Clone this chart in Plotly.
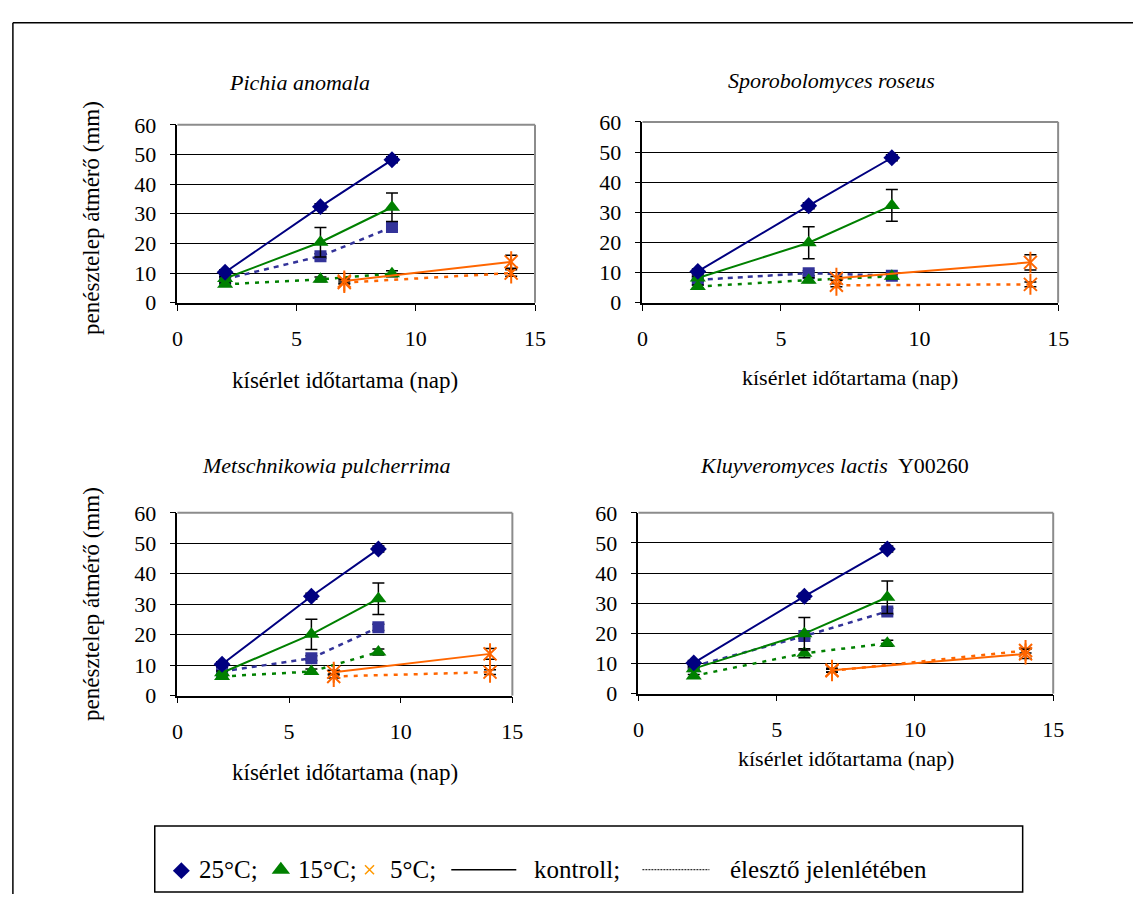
import plotly.graph_objects as go

# ---------------- data ----------------
species_titles = [
    "<i>Pichia anomala</i>",
    "<i>Sporobolomyces roseus</i>",
    "<i>Metschnikowia pulcherrima</i>",
    "<i>Kluyveromyces lactis</i>  Y00260",
]
days_warm = [2, 6, 9]      # 25 °C and 15 °C sampling days
days_cold = [7, 14]        # 5 °C sampling days

# colony diameter (mm); one row per species panel
ctrl_25 = [[10.3, 32.4, 48.2], [10.4, 32.2, 48.1], [10.3, 32.6, 48.1], [10.2, 32.3, 48.0]]
ctrl_25_err = [[0.8, 1.0, 1.0], [0.8, 1.0, 1.0], [0.8, 1.0, 1.0], [0.8, 1.0, 1.0]]
ctrl_15 = [[8.2, 20.4, 32.2], [8.2, 19.9, 32.3], [7.5, 20.1, 31.8], [8.3, 19.9, 32.0]]
ctrl_15_err = [[0.6, 5.0, 4.8], [0.6, 5.3, 5.3], [0.6, 5.0, 5.2], [0.6, 5.4, 5.4]]
ctrl_5 = [[7.3, 13.8], [8.1, 13.4], [7.7, 13.7], [7.8, 13.2]]
ctrl_5_err = [[0.6, 2.2], [0.6, 2.5], [0.6, 1.8], [0.6, 1.5]]

yeast_25 = [[8.0, 15.7, 25.5], [7.6, 9.8, 9.0], [7.9, 12.3, 22.4], [9.1, 19.1, 27.3]]
yeast_25_err = [[0.6, 0.8, 1.0], [0.6, 0.8, 0.8], [0.6, 0.8, 1.0], [0.6, 0.8, 1.0]]
yeast_15 = [[6.2, 7.9, 9.8], [5.4, 7.5, 8.8], [6.3, 7.9, 14.3], [5.9, 13.4, 16.7]]
yeast_15_err = [[0.5, 0.8, 1.0], [0.5, 0.8, 0.8], [0.5, 0.8, 1.0], [0.5, 1.5, 1.0]]
yeast_5 = [[6.8, 10.0], [5.8, 6.1], [6.3, 7.7], [7.6, 14.3]]
yeast_5_err = [[0.5, 1.1], [0.5, 0.8], [0.5, 0.8], [0.5, 0.8]]

x_ticks = [0, 5, 10, 15]
y_ticks = [0, 10, 20, 30, 40, 50, 60]
x_title = "kísérlet időtartama (nap)"
y_title = "penésztelep átmérő (mm)"
legend_labels = ["25°C;", "15°C;", "5°C;", "kontroll;", "élesztő jelenlétében"]

# ---------------- styling ----------------
W, H = 1144, 907
FONT = "Liberation Serif, 'Times New Roman', Times, serif"
NAVY = "#000080"
SLATE = "#333399"
GREEN = "#008000"
ORANGE = "#FF6600"


def fx(px):
    return px / W


def fy(py):
    return 1 - py / H


# plot-area pixel boxes: (left, right, top, bottom)
boxes = [
    (174, 537, 116, 299),
    (646, 1068, 113, 299),
    (174, 514, 515, 703),
    (642, 1063, 515, 701),
]
title_pos = [(298, 72), (838, 70), (325, 466), (841, 466)]
xtitle_pos = [(344, 379), (857, 376), (344, 782), (853, 768)]
xtitle_size = [23, 22, 23, 22]
ytitle_pos = [(86, 212), None, (86, 609), None]

fig = go.Figure()


def err(vals):
    return dict(type="data", array=vals, color="black", thickness=1.5, width=6, visible=True)


def star(x, y, common, size=13):
    """Excel-style star marker: an x with a vertical stroke."""
    return go.Scatter(x=x, y=y, mode="markers",
                      marker=dict(symbol="line-ns-open", size=size + 2, color=ORANGE,
                                  line=dict(color=ORANGE, width=2)), **common)


for i in range(4):
    xa = "x" if i == 0 else f"x{i + 1}"
    ya = "y" if i == 0 else f"y{i + 1}"
    common = dict(xaxis=xa, yaxis=ya, showlegend=False, hoverinfo="skip")

    # growth in presence of yeast (dotted)
    fig.add_trace(go.Scatter(x=days_warm, y=yeast_25[i], mode="lines+markers",
                             line=dict(color=SLATE, width=2.5, dash="5px,5px"),
                             marker=dict(symbol="square", size=12, color=SLATE),
                             error_y=err(yeast_25_err[i]), **common))
    fig.add_trace(go.Scatter(x=days_warm, y=yeast_15[i], mode="lines+markers",
                             line=dict(color=GREEN, width=2.5, dash="4px,6px"),
                             marker=dict(symbol="triangle-up", size=14, color=GREEN),
                             error_y=err(yeast_15_err[i]), **common))
    fig.add_trace(go.Scatter(x=days_cold, y=yeast_5[i], mode="lines+markers",
                             line=dict(color=ORANGE, width=2.5, dash="4px,6px"),
                             marker=dict(symbol="x-thin-open", size=13, color=ORANGE,
                                         line=dict(color=ORANGE, width=2)),
                             error_y=err(yeast_5_err[i]), **common))
    fig.add_trace(star(days_cold, yeast_5[i], common))

    # control colonies (solid)
    fig.add_trace(go.Scatter(x=days_cold, y=ctrl_5[i], mode="lines+markers",
                             line=dict(color=ORANGE, width=2),
                             marker=dict(symbol="x-thin-open", size=13, color=ORANGE,
                                         line=dict(color=ORANGE, width=2)),
                             error_y=err(ctrl_5_err[i]), **common))
    fig.add_trace(star(days_cold, ctrl_5[i], common))
    fig.add_trace(go.Scatter(x=days_warm, y=ctrl_15[i], mode="lines+markers",
                             line=dict(color=GREEN, width=2),
                             marker=dict(symbol="triangle-up", size=14, color=GREEN),
                             error_y=err(ctrl_15_err[i]), **common))
    fig.add_trace(go.Scatter(x=days_warm, y=ctrl_25[i], mode="lines+markers",
                             line=dict(color=NAVY, width=2),
                             marker=dict(symbol="diamond", size=13, color=NAVY),
                             error_y=err(ctrl_25_err[i]), **common))

    l, r, t, b = boxes[i]
    xkey = "xaxis" if i == 0 else f"xaxis{i + 1}"
    ykey = "yaxis" if i == 0 else f"yaxis{i + 1}"
    fig.layout[xkey] = dict(
        domain=[fx(l), fx(r)], anchor=ya, range=[0, 15], tickvals=x_ticks,
        showgrid=False, zeroline=False, showline=True, linecolor="black", linewidth=1.5,
        ticks="outside", ticklen=6, tickcolor="black", ticklabelstandoff=9,
        tickfont=dict(family=FONT, size=22, color="black"), fixedrange=True,
    )
    fig.layout[ykey] = dict(
        domain=[fy(b), fy(t)], anchor=xa, range=[0, 60], tickvals=y_ticks,
        showgrid=True, gridcolor="black", gridwidth=1, zeroline=False,
        showline=True, linecolor="black", linewidth=1.5,
        ticks="outside", ticklen=6, tickcolor="black", ticklabelstandoff=9,
        tickfont=dict(family=FONT, size=22, color="black"), fixedrange=True,
    )

    # grey top and right frame of the plot area
    fig.add_shape(type="line", xref="paper", yref="paper", x0=fx(l), x1=fx(r), y0=fy(t), y1=fy(t),
                  line=dict(color="#8c8c8c", width=2))
    fig.add_shape(type="line", xref="paper", yref="paper", x0=fx(r), x1=fx(r), y0=fy(t), y1=fy(b),
                  line=dict(color="#8c8c8c", width=2))

    tx, ty = title_pos[i]
    fig.add_annotation(x=fx(tx), y=fy(ty), xref="paper", yref="paper", text=species_titles[i],
                       showarrow=False, xanchor="center", yanchor="middle",
                       font=dict(family=FONT, size=22, color="black"))
    ax_, ay_ = xtitle_pos[i]
    fig.add_annotation(x=fx(ax_), y=fy(ay_), xref="paper", yref="paper", text=x_title,
                       showarrow=False, xanchor="center", yanchor="middle",
                       font=dict(family=FONT, size=xtitle_size[i], color="black"))
    if ytitle_pos[i] is not None:
        yx, yy = ytitle_pos[i]
        fig.add_annotation(x=fx(yx), y=fy(yy), xref="paper", yref="paper", text=y_title,
                           textangle=-90, showarrow=False, xanchor="center", yanchor="middle",
                           font=dict(family=FONT, size=23, color="black"))

# ---------------- legend (drawn on a pixel-space overlay axis) ----------------
fig.layout["xaxis5"] = dict(domain=[0, 1], range=[0, W], anchor="y5", visible=False, fixedrange=True)
fig.layout["yaxis5"] = dict(domain=[0, 1], range=[H, 0], anchor="x5", visible=False, fixedrange=True)
LEG_Y = 883
leg = dict(xaxis="x5", yaxis="y5", showlegend=False, hoverinfo="skip")
fig.add_trace(go.Scatter(x=[178], y=[LEG_Y], mode="markers",
                         marker=dict(symbol="diamond", size=13, color=NAVY), **leg))
fig.add_trace(go.Scatter(x=[279], y=[LEG_Y - 1], mode="markers",
                         marker=dict(symbol="triangle-up", size=16, color=GREEN), **leg))
fig.add_trace(go.Scatter(x=[369], y=[LEG_Y - 1], mode="markers",
                         marker=dict(symbol="x-thin-open", size=9, color="#FF9900",
                                     line=dict(color="#FF9900", width=1.5)), **leg))
fig.add_trace(go.Scatter(x=[452, 518], y=[LEG_Y - 1, LEG_Y - 1], mode="lines",
                         line=dict(color="black", width=1.5), **leg))
fig.add_trace(go.Scatter(x=[646, 714], y=[LEG_Y - 1, LEG_Y - 1], mode="lines",
                         line=dict(color="#333333", width=1.2, dash="2px,1px"), **leg))

for label, x0 in zip(legend_labels, [194, 294, 388, 534, 733]):
    fig.add_annotation(x=fx(x0), y=fy(LEG_Y - 1), xref="paper", yref="paper", text=label,
                       showarrow=False, xanchor="left", yanchor="middle",
                       font=dict(family=FONT, size=25, color="black"))

# legend box
fig.add_shape(type="rect", xref="paper", yref="paper", x0=fx(151), x1=fx(1032), y0=fy(837), y1=fy(905),
              line=dict(color="black", width=1.5), fillcolor="rgba(0,0,0,0)")
# outer frame (top and left edges)
fig.add_shape(type="line", xref="paper", yref="paper", x0=fx(7), x1=1, y0=fy(11), y1=fy(11),
              line=dict(color="black", width=1.5))
fig.add_shape(type="line", xref="paper", yref="paper", x0=fx(7), x1=fx(7), y0=fy(11), y1=0,
              line=dict(color="black", width=1.5))

fig.update_layout(
    width=W, height=H, margin=dict(l=0, r=0, t=0, b=0),
    paper_bgcolor="white", plot_bgcolor="rgba(0,0,0,0)",
    font=dict(family=FONT, color="black"),
    showlegend=False,
)

fig.write_html("out.html", config={"displayModeBar": False},
               post_script="document.body.style.margin='0';")
